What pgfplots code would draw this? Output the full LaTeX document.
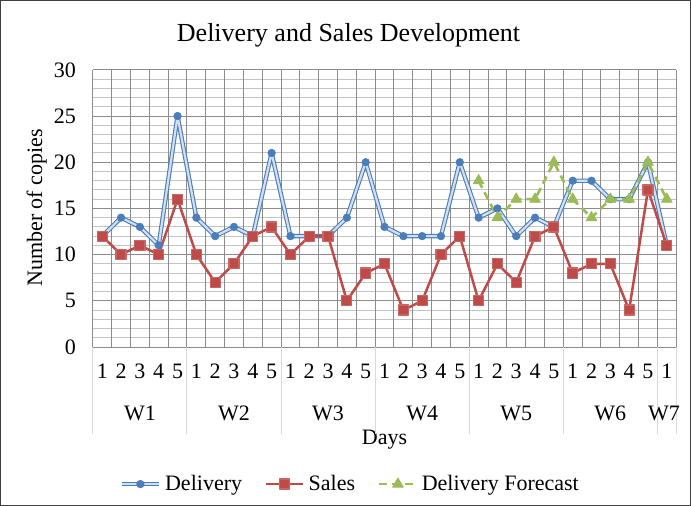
\documentclass[border=0pt]{standalone}
\usepackage{pgfplots}
\pgfplotsset{compat=1.18}
\usepackage{fontspec}
\setmainfont{Liberation Serif}
\definecolor{delblue}{HTML}{4A7EBB}
\definecolor{dellight}{HTML}{D3DFEE}
\definecolor{salesred}{HTML}{BE4B48}
\definecolor{fcgreen}{HTML}{9BBB59}
\definecolor{gridmaj}{HTML}{8C8C8C}
\definecolor{gridmin}{HTML}{C4C4C4}
\definecolor{sepgray}{HTML}{DADADA}
\begin{document}
\begin{tikzpicture}[x=1pt,y=1pt]
\draw[black!75, line width=0.6pt] (0.4,0.4) rectangle (345.1,252.6);
\node[font=\fontsize{13}{15}\selectfont] at (174.25,235.5) {Delivery and Sales Development};
\node[rotate=90, font=\fontsize{11}{13}\selectfont] at (18.5,149) {Number of copies};
\node[font=\fontsize{11}{13}\selectfont] at (192.25,33) {Days};
\begin{axis}[
  at={(46.5pt,79.5pt)}, anchor=south west,
  scale only axis, width=291.5pt, height=138.5pt,
  xmin=0.5, xmax=31.5, ymin=0, ymax=30,
  clip=false,
  axis line style={draw=none},
  xtick={1,...,31},
  xticklabels={1,2,3,4,5,1,2,3,4,5,1,2,3,4,5,1,2,3,4,5,1,2,3,4,5,1,2,3,4,5,1},
  extra x ticks={0.5,1.5,...,31.5},
  extra x tick labels={},
  extra x tick style={grid=major, major grid style={gridmaj, line width=0.5pt}, tick style={draw=none}},
  ytick={0,5,...,30},
  minor ytick={0,1,...,30},
  ymajorgrids, yminorgrids,
  major grid style={gridmaj, line width=0.5pt},
  minor grid style={gridmin, line width=0.5pt},
  major tick length=0pt, minor tick length=0pt,
  tick style={draw=none},
  xticklabel shift=5pt,
  yticklabel shift=5pt,
  tick label style={font=\fontsize{11}{13}\selectfont},
  /pgf/number format/assume math mode=true,
  legend style={at={(axis description cs:0.443,-0.4946)}, anchor=center, draw=none, fill=none,
    font=\fontsize{11}{13}\selectfont, legend columns=3,
    /tikz/every even column/.append style={column sep=9.5pt},
    /tikz/every odd column/.append style={column sep=0pt}},
  legend image code/.code={\draw[mark repeat=2,mark phase=2,#1] plot coordinates {(0pt,0pt) (9.25pt,0pt) (18.5pt,0pt)};},
]
\addplot[delblue, line width=0.55pt, double=dellight, double distance=1.1pt, line join=round,
  mark=*, mark size=1.9pt, mark options={solid, fill=delblue, draw=delblue, double=delblue, line width=0.3pt, double distance=0.3pt}]
  coordinates {(1,12)(2,14)(3,13)(4,11)(5,25)(6,14)(7,12)(8,13)(9,12)(10,21)
  (11,12)(12,12)(13,12)(14,14)(15,20)(16,13)(17,12)(18,12)(19,12)(20,20)
  (21,14)(22,15)(23,12)(24,14)(25,13)(26,18)(27,18)(28,16)(29,16)(30,20)(31,11)};
\addlegendentry{Delivery}
\addplot[salesred, line width=1.25pt, line join=round,
  mark=square*, mark size=2.5pt, mark options={solid, line width=0.6pt, fill=salesred, draw=salesred!85!white}]
  coordinates {(1,12)(2,10)(3,11)(4,10)(5,16)(6,10)(7,7)(8,9)(9,12)(10,13)
  (11,10)(12,12)(13,12)(14,5)(15,8)(16,9)(17,4)(18,5)(19,10)(20,12)
  (21,5)(22,9)(23,7)(24,12)(25,13)(26,8)(27,9)(28,9)(29,4)(30,17)(31,11)};
\addlegendentry{Sales}
\addplot[fcgreen, line width=1.3pt, dash pattern=on 4pt off 2.5pt, line join=round,
  mark=triangle*, mark size=3.1pt, mark options={solid, line width=0.4pt, fill=fcgreen, draw=fcgreen}]
  coordinates {(21,18)(22,14)(23,16)(24,16)(25,20)(26,16)(27,14)(28,16)(29,16)(30,20)(31,16)};
\addlegendentry{Delivery Forecast}
\pgfplotsinvokeforeach{0.5,5.5,10.5,15.5,20.5,25.5,30.5,31.5}{
  \draw[sepgray, line width=0.5pt] (axis cs:#1,0) -- ([yshift=-43.5pt]axis cs:#1,0);
}
\node[font=\fontsize{11}{13}\selectfont] at ([yshift=-33pt]axis cs:3,0) {W1};
\node[font=\fontsize{11}{13}\selectfont] at ([yshift=-33pt]axis cs:8,0) {W2};
\node[font=\fontsize{11}{13}\selectfont] at ([yshift=-33pt]axis cs:13,0) {W3};
\node[font=\fontsize{11}{13}\selectfont] at ([yshift=-33pt]axis cs:18,0) {W4};
\node[font=\fontsize{11}{13}\selectfont] at ([yshift=-33pt]axis cs:23,0) {W5};
\node[font=\fontsize{11}{13}\selectfont] at ([yshift=-33pt]axis cs:28,0) {W6};
\node[font=\fontsize{11}{13}\selectfont] at ([yshift=-33pt]axis cs:30.85,0) {W7};
\end{axis}
\end{tikzpicture}
\end{document}
